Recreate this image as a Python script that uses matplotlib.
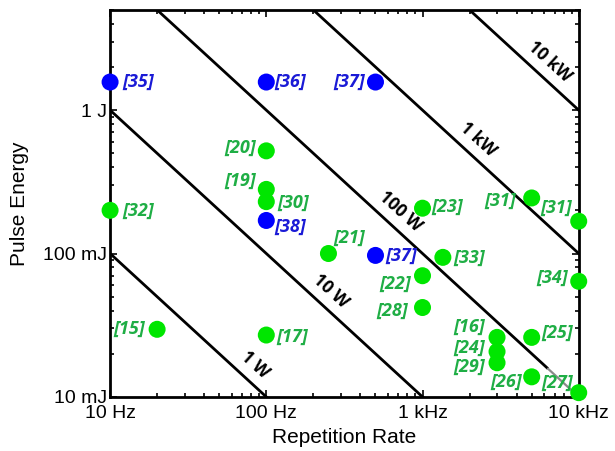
import matplotlib
matplotlib.use("Agg")
import matplotlib.pyplot as plt
import numpy as np
from matplotlib.ticker import FixedLocator, LogLocator, NullFormatter

# ---- data (frequency in Hz, pulse energy in J) ----
green_labels = ["[20]", "[19]", "[30]", "[32]", "[21]", "[33]", "[22]", "[28]", "[23]",
                "[31]", "[31]", "[34]", "[25]", "[16]", "[24]", "[29]", "[26]", "[27]",
                "[15]", "[17]"]
green_freq = [100, 100, 100, 10, 250, 1350, 1000, 1000, 1000,
              5000, 10000, 10000, 5000, 3000, 3000, 3000, 5000, 10000,
              20, 100]
green_energy = [0.52, 0.28, 0.23, 0.20, 0.10, 0.094, 0.070, 0.042, 0.207,
                0.244, 0.168, 0.064, 0.026, 0.026, 0.0207, 0.0173, 0.0138, 0.0107,
                0.0296, 0.027]

blue_labels = ["[35]", "[36]", "[37]", "[38]", "[37]"]
blue_freq = [10, 100, 500, 100, 500]
blue_energy = [1.57, 1.57, 1.57, 0.17, 0.097]

power_levels = [1, 10, 100, 1000, 10000]
power_labels = ["1 W", "10 W", "100 W", "1 kW", "10 kW"]
# where along each power line its label sits (Hz)
power_label_freq = [85, 260, 716, 2260, 6530]

xticks = [10, 100, 1000, 10000]
xticklabels = ["10 Hz", "100 Hz", "1 kHz", "10 kHz"]
yticks = [0.01, 0.1, 1]
yticklabels = ["10 mJ", "100 mJ", "1 J"]

# label offsets (pixels) and alignment, per point
green_offsets = [(-10, 3, "right"), (-10, 9, "right"), (11, -1, "left"), (12, 0, "left"),
                 (5, 16, "left"), (10, 0, "left"), (-11, -8, "right"), (-14, -3, "right"),
                 (9, 1, "left"), (-16, -3, "right"), (-7, 13, "right"), (-11, 3, "right"),
                 (10, 5, "left"), (-12, 11, "right"), (-12, 4, "right"), (-12, -4, "right"),
                 (-10, -5, "right"), (-6, 10, "right"), (-12, 0, "right"), (10, -2, "left")]
blue_offsets = [(12, 0, "left"), (8, 0, "left"), (-10, 0, "right"), (8, -6, "left"),
                (10, 0, "left")]

fig = plt.figure(figsize=(6.15, 4.51), dpi=100)
ax = fig.add_axes([0.179, 0.120, 0.762, 0.858])
ax.set_xscale("log")
ax.set_yscale("log")
ax.set_xlim(10, 10000)
ax.set_ylim(0.01, 5.0)

fgrid = np.logspace(1, 4, 400)
for p in power_levels:
    if p == 100:
        m = fgrid <= 6300
        ax.plot(fgrid[m], p / fgrid[m], color="black", lw=2, zorder=2)
        ax.plot(fgrid[~m], p / fgrid[~m], color="#8a8a8a", lw=1.6, zorder=2)
    else:
        ax.plot(fgrid, p / fgrid, color="black", lw=2, zorder=2)

for p, f, txt in zip(power_levels, power_label_freq, power_labels):
    ax.text(f, p / f * 1.42, txt, rotation=-42, ha="center", va="center",
            fontsize=12.5, fontweight="bold", rotation_mode="anchor",
            family="Open Sans", zorder=3)

ax.scatter(green_freq, green_energy, s=150, color="#00e600", zorder=4,
           clip_on=False, edgecolors="none")
ax.scatter(blue_freq, blue_energy, s=150, color="#0000ff", zorder=4,
           clip_on=False, edgecolors="none")

for lab, f, e, (dx, dy, ha) in zip(green_labels, green_freq, green_energy, green_offsets):
    ax.annotate(lab, (f, e), xytext=(dx, dy), textcoords="offset pixels",
                ha=ha, va="center", color="#1fae45", fontsize=13,
                fontweight="bold", fontstyle="italic", family="Open Sans", zorder=5)
for lab, f, e, (dx, dy, ha) in zip(blue_labels, blue_freq, blue_energy, blue_offsets):
    ax.annotate(lab, (f, e), xytext=(dx, dy), textcoords="offset pixels",
                ha=ha, va="center", color="#1a1ad6", fontsize=13,
                fontweight="bold", fontstyle="italic", family="Open Sans", zorder=5)

ax.xaxis.set_major_locator(FixedLocator(xticks))
ax.set_xticklabels(xticklabels)
ax.yaxis.set_major_locator(FixedLocator(yticks))
ax.set_yticklabels(yticklabels)
ax.xaxis.set_minor_locator(LogLocator(base=10, subs=np.arange(2, 10)))
ax.yaxis.set_minor_locator(LogLocator(base=10, subs=np.arange(2, 10)))
ax.xaxis.set_minor_formatter(NullFormatter())
ax.yaxis.set_minor_formatter(NullFormatter())
ax.tick_params(which="both", direction="in", top=True, right=True, width=1.2)
ax.tick_params(which="major", length=5, labelsize=14)
ax.tick_params(axis="x", which="major", pad=6)
ax.tick_params(axis="y", which="major", pad=2)
ax.tick_params(which="minor", length=3)
for lab in ax.get_xticklabels() + ax.get_yticklabels():
    lab.set_family("Liberation Sans")
for s in ax.spines.values():
    s.set_linewidth(2)

ax.set_xlabel("Repetition Rate", fontsize=15, family="Liberation Sans", labelpad=4)
ax.set_ylabel("Pulse Energy", fontsize=15, family="Liberation Sans", labelpad=10)

fig.savefig("out.png", dpi=100)
